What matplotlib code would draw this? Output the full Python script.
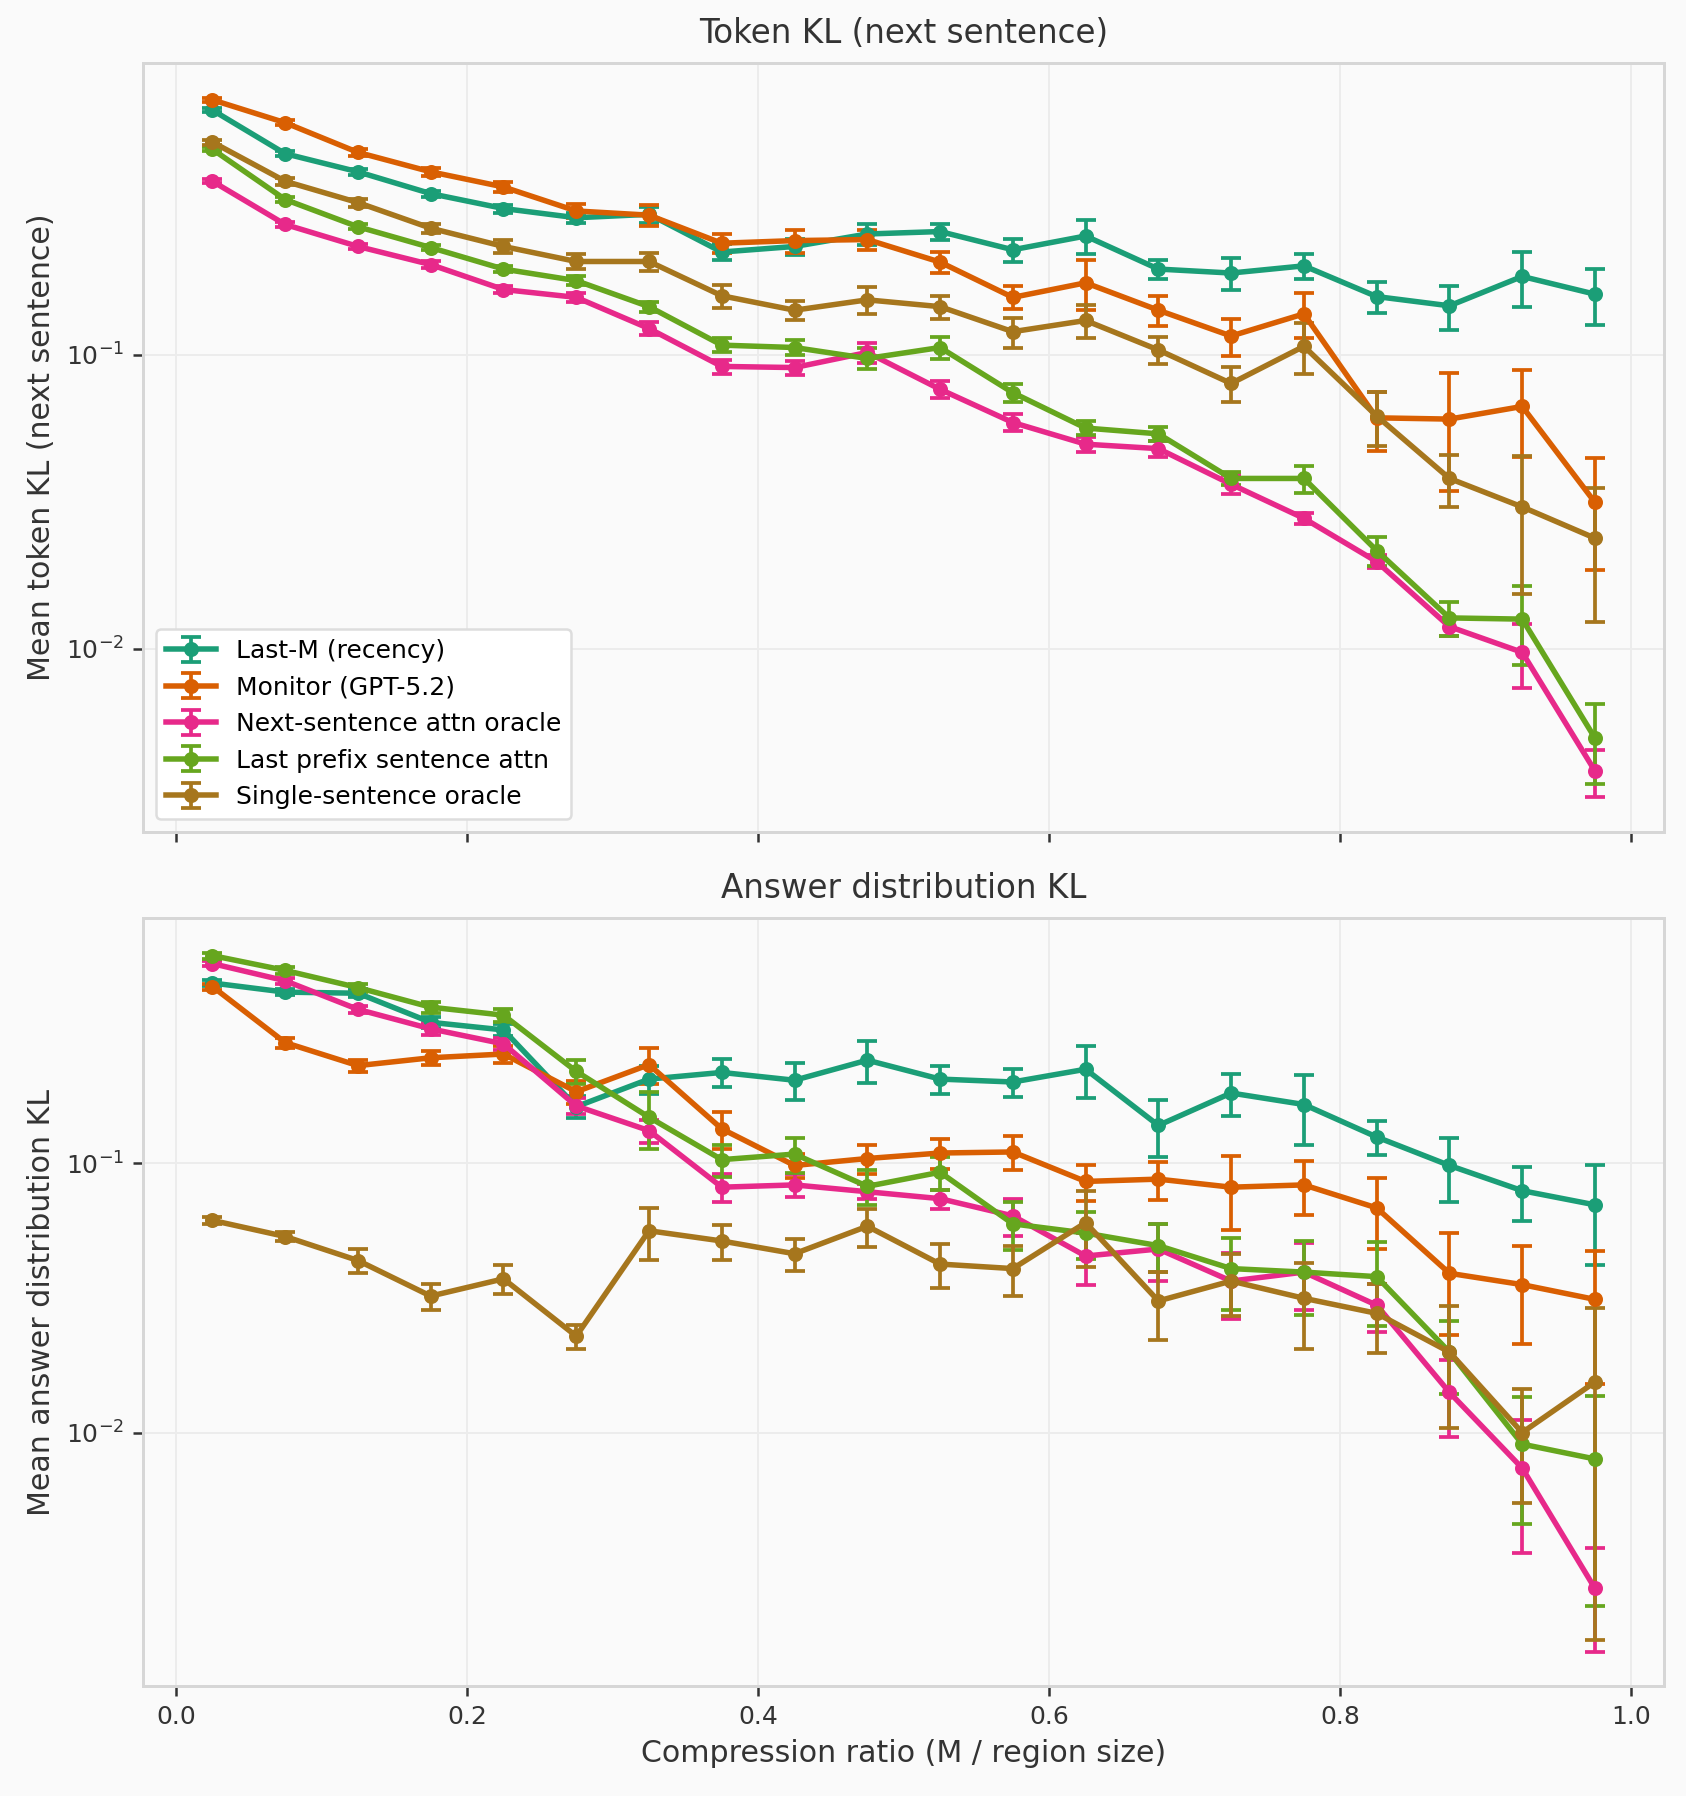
import matplotlib

matplotlib.use("Agg")
import matplotlib.pyplot as plt
import numpy as np

# --- data ---
ratios = [0.025, 0.075, 0.125, 0.175, 0.225, 0.275, 0.325, 0.375, 0.425, 0.475,
          0.525, 0.575, 0.625, 0.675, 0.725, 0.775, 0.825, 0.875, 0.925, 0.975]

methods = ["Last-M (recency)", "Monitor (GPT-5.2)", "Next-sentence attn oracle",
           "Last prefix sentence attn", "Single-sentence oracle"]
colors = ["#1b9e77", "#d95f02", "#e7298a", "#66a61e", "#a6761d"]

# token KL (next sentence)
tok_lastm = [0.681, 0.484, 0.420, 0.354, 0.315, 0.293, 0.301, 0.224, 0.234, 0.258,
             0.263, 0.228, 0.254, 0.196, 0.190, 0.201, 0.158, 0.147, 0.185, 0.161]
tok_lastm_err = [0.012, 0.010, 0.010, 0.008, 0.010, 0.012, 0.019, 0.014, 0.015, 0.022,
                 0.017, 0.021, 0.033, 0.015, 0.023, 0.019, 0.019, 0.025, 0.039, 0.035]
tok_monitor = [0.738, 0.617, 0.489, 0.420, 0.373, 0.309, 0.299, 0.240, 0.245, 0.247,
               0.207, 0.157, 0.176, 0.142, 0.116, 0.138, 0.0611, 0.0605, 0.0668, 0.0315]
tok_monitor_err = [0.012, 0.012, 0.012, 0.012, 0.014, 0.017, 0.025, 0.017, 0.022, 0.020,
                   0.017, 0.014, 0.034, 0.017, 0.017, 0.024, 0.014, 0.026, 0.022, 0.013]
tok_next = [0.390, 0.278, 0.234, 0.203, 0.167, 0.157, 0.123, 0.0914, 0.0906, 0.102,
            0.0764, 0.0589, 0.0497, 0.0480, 0.0363, 0.0278, 0.0198, 0.0119, 0.00973, 0.00384]
tok_next_err = [0.006, 0.005, 0.005, 0.005, 0.005, 0.006, 0.006, 0.005, 0.005, 0.008,
                0.005, 0.004, 0.003, 0.003, 0.0026, 0.0013, 0.001, 0.0008, 0.0024, 0.0007]
tok_prefix = [0.501, 0.338, 0.273, 0.232, 0.196, 0.179, 0.146, 0.108, 0.106, 0.0973,
              0.106, 0.0744, 0.0564, 0.0539, 0.038, 0.038, 0.0216, 0.01274, 0.01262, 0.00497]
tok_prefix_err = [0.008, 0.006, 0.005, 0.005, 0.005, 0.006, 0.006, 0.006, 0.006, 0.008,
                  0.009, 0.005, 0.003, 0.003, 0.002, 0.004, 0.0024, 0.0017, 0.0038, 0.0015]
tok_single = [0.530, 0.390, 0.330, 0.270, 0.234, 0.208, 0.208, 0.159, 0.142, 0.154,
              0.146, 0.120, 0.131, 0.104, 0.080, 0.107, 0.062, 0.038, 0.0304, 0.0238]
tok_single_err = [0.010, 0.010, 0.010, 0.010, 0.012, 0.012, 0.015, 0.014, 0.011, 0.016,
                  0.013, 0.014, 0.017, 0.011, 0.011, 0.021, 0.013, 0.0075, 0.015, 0.0115]

# answer distribution KL
ans_lastm = [0.466, 0.431, 0.427, 0.333, 0.312, 0.162, 0.205, 0.217, 0.203, 0.241,
             0.205, 0.200, 0.223, 0.138, 0.182, 0.165, 0.125, 0.098, 0.079, 0.070]
ans_lastm_err = [0.012, 0.012, 0.015, 0.015, 0.015, 0.015, 0.025, 0.026, 0.032, 0.043,
                 0.025, 0.024, 0.048, 0.033, 0.033, 0.048, 0.018, 0.026, 0.018, 0.028]
ans_monitor = [0.452, 0.280, 0.230, 0.246, 0.254, 0.184, 0.232, 0.134, 0.098, 0.104,
               0.109, 0.110, 0.0855, 0.0872, 0.0814, 0.083, 0.0682, 0.039, 0.0354, 0.0312]
ans_monitor_err = [0.012, 0.012, 0.012, 0.015, 0.018, 0.018, 0.036, 0.021, 0.010, 0.013,
                   0.014, 0.016, 0.013, 0.014, 0.025, 0.019, 0.020, 0.016, 0.014, 0.016]
ans_next = [0.550, 0.475, 0.372, 0.315, 0.277, 0.163, 0.132, 0.0814, 0.083, 0.0783,
            0.0738, 0.0637, 0.0452, 0.048, 0.0365, 0.0394, 0.0297, 0.0141, 0.00738, 0.00264]
ans_next_err = [0.012, 0.012, 0.012, 0.015, 0.015, 0.011, 0.013, 0.0098, 0.008, 0.005,
                0.006, 0.010, 0.010, 0.0115, 0.010, 0.011, 0.006, 0.0045, 0.0038, 0.0011]
ans_prefix = [0.589, 0.519, 0.448, 0.379, 0.354, 0.219, 0.148, 0.103, 0.108, 0.082,
              0.0925, 0.0595, 0.055, 0.0494, 0.0406, 0.0394, 0.0379, 0.0199, 0.00906, 0.00798]
ans_prefix_err = [0.015, 0.015, 0.015, 0.018, 0.020, 0.022, 0.035, 0.014, 0.016, 0.012,
                  0.013, 0.012, 0.011, 0.010, 0.012, 0.012, 0.013, 0.006, 0.0045, 0.0057]
ans_single = [0.0613, 0.0534, 0.0435, 0.0321, 0.0372, 0.0228, 0.0561, 0.0514, 0.0461, 0.0583,
              0.0422, 0.0406, 0.0601, 0.0308, 0.0365, 0.0315, 0.0277, 0.0199, 0.0100, 0.0154]
ans_single_err = [0.002, 0.002, 0.0043, 0.0035, 0.0045, 0.0023, 0.0123, 0.0076, 0.0063, 0.0093,
                  0.0077, 0.0086, 0.019, 0.0088, 0.0095, 0.011, 0.008, 0.0095, 0.0045, 0.0137]

token_series = [(tok_lastm, tok_lastm_err), (tok_monitor, tok_monitor_err),
                (tok_next, tok_next_err), (tok_prefix, tok_prefix_err),
                (tok_single, tok_single_err)]
answer_series = [(ans_lastm, ans_lastm_err), (ans_monitor, ans_monitor_err),
                 (ans_next, ans_next_err), (ans_prefix, ans_prefix_err),
                 (ans_single, ans_single_err)]

# --- style ---
BG = "#fafafa"
TXT = "#333333"
plt.rcParams.update({
    "figure.facecolor": BG,
    "axes.facecolor": BG,
    "axes.edgecolor": "#d6d6d6",
    "axes.linewidth": 1.2,
    "axes.grid": True,
    "grid.color": "#ececec",
    "grid.linewidth": 0.8,
    "axes.labelcolor": TXT,
    "axes.titlecolor": TXT,
    "xtick.color": TXT,
    "ytick.color": TXT,
    "text.color": TXT,
    "font.size": 10,
})


def draw_panel(ax, series, title, ylabel):
    for (vals, errs), name, col in zip(series, methods, colors):
        ax.errorbar(ratios, vals, yerr=errs, color=col, label=name,
                    marker="o", markersize=5, linewidth=2.2,
                    elinewidth=1.5, capsize=4, capthick=1.5)
    ax.set_yscale("log")
    ax.set_title(title, fontsize=13, pad=8)
    ax.set_ylabel(ylabel, fontsize=12)
    ax.tick_params(axis="both", labelsize=10, length=4, width=1.0)
    ax.tick_params(axis="y", which="minor", length=0)
    ax.grid(True, which="major")
    ax.grid(False, which="minor")


DPI = 180
fig, (ax1, ax2) = plt.subplots(2, 1, figsize=(1686 / DPI, 1796 / DPI), dpi=DPI, sharex=True)
fig.subplots_adjust(left=0.085, right=0.987, top=0.965, bottom=0.061, hspace=0.112)

draw_panel(ax1, token_series, "Token KL (next sentence)", "Mean token KL (next sentence)")
draw_panel(ax2, answer_series, "Answer distribution KL", "Mean answer distribution KL")
ax2.set_xlabel("Compression ratio (M / region size)", fontsize=12)

leg = ax1.legend(loc="lower left", fontsize=10, frameon=True, facecolor="white",
                 edgecolor="#dddddd", framealpha=1.0)
for txt in leg.get_texts():
    txt.set_color("black")

fig.savefig("out.png", dpi=DPI, facecolor=BG)
